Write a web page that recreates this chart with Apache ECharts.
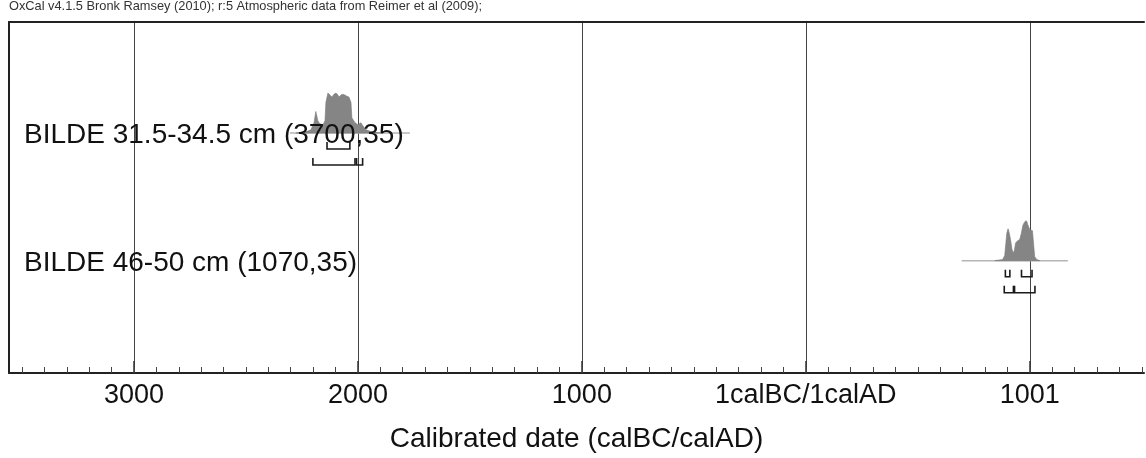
<!DOCTYPE html>
<html><head><meta charset="utf-8">
<script src="https://cdn.jsdelivr.net/npm/echarts@6/dist/echarts.min.js"></script>
<style>html,body{margin:0;padding:0;background:#fff}#c{width:1146px;height:458px}</style>
</head><body><div id="c"></div>
<script>
// ---- data ----
const headerText = 'OxCal v4.1.5 Bronk Ramsey (2010); r:5 Atmospheric data from Reimer et al (2009);';
const axisTitle = 'Calibrated date (calBC/calAD)';
const sampleNames = ['BILDE 31.5-34.5 cm (3700,35)', 'BILDE 46-50 cm (1070,35)'];
const majorTicks = [-3000, -2000, -1000, 0, 1000];
const majorTickLabels = ['3000', '2000', '1000', '1calBC/1calAD', '1001'];
const minorTicks = [-3500, -3400, -3300, -3200, -3100, -3000, -2900, -2800, -2700, -2600, -2500, -2400, -2300, -2200, -2100,
  -2000, -1900, -1800, -1700, -1600, -1500, -1400, -1300, -1200, -1100, -1000, -900, -800, -700, -600, -500, -400, -300,
  -200, -100, 0, 100, 200, 300, 400, 500, 600, 700, 800, 900, 1000, 1100, 1200, 1300, 1400, 1500];

// sample 1 (BC as negative years)
const sample1Years = [-2277, -2232, -2210, -2196, -2188, -2179, -2170, -2156, -2147, -2143, -2134, -2125, -2116, -2107, -2098,
  -2089, -2085, -2076, -2067, -2058, -2049, -2040, -2031, -2027, -2013, -2000, -1987, -1978, -1964, -1938, -1902];
const sample1Prob = [0, 0.03, 0.08, 0.26, 0.54, 0.31, 0.23, 0.21, 0.31, 0.77, 1.0, 0.95, 0.9, 0.97, 1.0,
  0.95, 0.9, 0.95, 0.97, 0.95, 0.92, 0.9, 0.77, 0.38, 0.26, 0.21, 0.26, 0.18, 0.08, 0.03, 0];
const sample1Span = [-2304, -1768];
const sample1Range68 = [[-2138, -2036]];
const sample1Range95 = [[-2201, -2013], [-2006, -1979]];

// sample 2 (AD)
const sample2Years = [844, 879, 888, 893, 897, 903, 908, 914, 920, 925, 931, 937, 946, 955, 962, 969, 975, 982, 987, 991,
  1000, 1012, 1018, 1022, 1031, 1045];
const sample2Prob = [0, 0.03, 0.13, 0.43, 0.68, 0.8, 0.7, 0.53, 0.3, 0.2, 0.25, 0.45, 0.5, 0.53, 0.68, 0.88, 0.95, 1.0, 0.98, 0.9,
  0.78, 0.75, 0.35, 0.1, 0.03, 0];
const sample2Span = [696, 1170];
const sample2Range68 = [[891, 911], [963, 1010]];
const sample2Range95 = [[886, 927], [932, 1023]];

// ---- layout ----
const X_MIN = -3558, X_MAX = 1510;
const ROW_POS = [0.87, 1.87];      // y-axis units (inverse axis)
const AMP = 0.313;                 // y-axis units for probability 1
const FONT = "'Liberation Sans', Arial, Helvetica, sans-serif";

const samples = [
  {years: sample1Years, prob: sample1Prob, span: sample1Span, r68: sample1Range68, r95: sample1Range95},
  {years: sample2Years, prob: sample2Prob, span: sample2Span, r68: sample2Range68, r95: sample2Range95}
];

function renderRow(params, api) {
  const i = api.value(0);
  const s = samples[i];
  const yb = ROW_POS[i];
  const children = [];
  const b0 = api.coord([s.span[0], yb]);
  const b1 = api.coord([s.span[1], yb]);
  children.push({type: 'line', shape: {x1: b0[0], y1: b0[1], x2: b1[0], y2: b1[1]},
    style: {stroke: '#b5b5b5', lineWidth: 1.5}, z2: 1});
  const pts = [api.coord([s.years[0], yb])];
  for (let k = 0; k < s.years.length; k++) pts.push(api.coord([s.years[k], yb - s.prob[k] * AMP]));
  pts.push(api.coord([s.years[s.years.length - 1], yb]));
  children.push({type: 'polygon', shape: {points: pts}, style: {fill: '#858585', stroke: '#7a7a7a', lineWidth: 0.6}, z2: 2});
  const addBr = (ranges, off) => {
    ranges.forEach(r => {
      const a = api.coord([r[0], yb]);
      const b = api.coord([r[1], yb]);
      const y = a[1] + off;
      children.push({type: 'polyline', shape: {points: [[a[0], y - 7], [a[0], y], [b[0], y], [b[0], y - 7]]},
        style: {stroke: '#1a1a1a', lineWidth: 1.6, fill: null}, z2: 3});
    });
  };
  addBr(s.r68, 16);
  addBr(s.r95, 32);
  children.push({type: 'text', x: params.coordSys.x + 15, y: b0[1] + 2.5,
    style: {text: sampleNames[i], fontSize: 28, fontFamily: FONT, fill: '#111', verticalAlign: 'middle', align: 'left'}, z2: 5});
  return {type: 'group', children};
}

const chart = echarts.init(document.getElementById('c'), null, {renderer: 'canvas'});
chart.setOption({
  animation: false,
  textStyle: {fontFamily: FONT},
  title: {text: headerText, left: 9, top: 0, padding: 0,
    textStyle: {fontSize: 12.8, fontWeight: 'normal', color: '#333', fontFamily: FONT}},
  grid: {left: 9, right: 2, top: 22, bottom: 85, containLabel: false},
  xAxis: [
    {type: 'value', min: X_MIN, max: X_MAX, position: 'bottom',
      axisLine: {show: true, onZero: false, lineStyle: {color: '#222', width: 2}},
      axisTick: {show: true, customValues: majorTicks, inside: true, length: 12, lineStyle: {color: '#333', width: 1.5}},
      axisLabel: {show: true, customValues: majorTicks, margin: 9, fontSize: 27, color: '#111', fontFamily: FONT,
        formatter: v => majorTickLabels[majorTicks.indexOf(v)] || ''},
      splitLine: {show: true, lineStyle: {color: '#444', width: 1}},
      name: axisTitle, nameLocation: 'middle', nameGap: 52,
      nameTextStyle: {fontSize: 28, color: '#111', fontFamily: FONT}},
    {type: 'value', min: X_MIN, max: X_MAX, position: 'bottom',
      axisLine: {show: false, onZero: false},
      axisTick: {show: true, customValues: minorTicks, inside: true, length: 6, lineStyle: {color: '#444', width: 1}},
      axisLabel: {show: false}, splitLine: {show: false}},
    {type: 'value', min: X_MIN, max: X_MAX, position: 'top',
      axisLine: {show: true, onZero: false, lineStyle: {color: '#222', width: 2}},
      axisTick: {show: false}, axisLabel: {show: false}, splitLine: {show: false}}
  ],
  yAxis: {type: 'value', min: 0, max: 2.75, inverse: true, position: 'left',
    axisLine: {show: true, onZero: false, lineStyle: {color: '#222', width: 2}},
    axisTick: {show: false}, axisLabel: {show: false}, splitLine: {show: false}},
  series: [{
    type: 'custom', xAxisIndex: 0, yAxisIndex: 0, clip: false,
    renderItem: renderRow,
    data: [[0], [1]],
    z: 5
  }]
});
</script>
</body></html>
